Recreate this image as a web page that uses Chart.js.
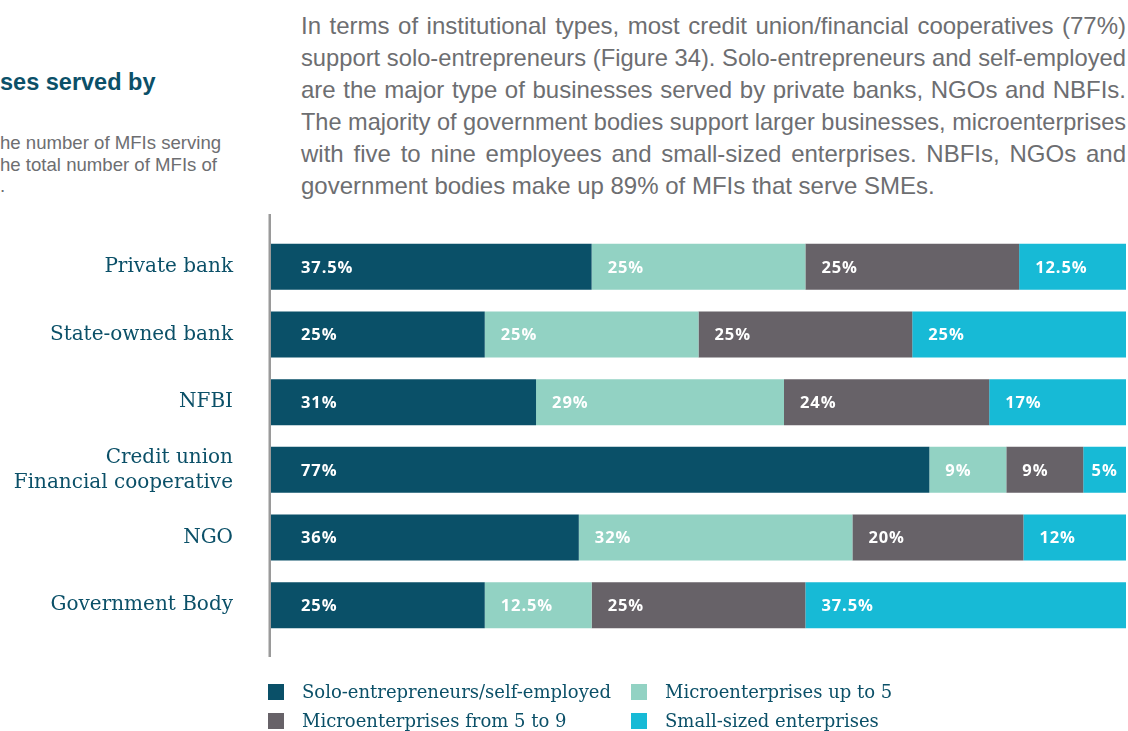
<!DOCTYPE html>
<html>
<head>
<meta charset="utf-8">
<script src="https://cdn.jsdelivr.net/npm/chart.js@4.4.1/dist/chart.umd.min.js"></script>
<style>
  html, body { margin: 0; padding: 0; background: #ffffff; }
  body { width: 1128px; height: 731px; position: relative; overflow: hidden; }
  #wrap { position: absolute; left: 0; top: 0; width: 1128px; height: 731px; }
  .title { position: absolute; left: 0; top: 69px; font: bold 23.5px "Liberation Sans", Arial, sans-serif; color: #0b5068; white-space: nowrap; }
  .sub { position: absolute; left: 0; top: 132px; font: 18.6px/21.5px "Liberation Sans", Arial, sans-serif; color: #6d6e71; white-space: nowrap; }
  .para { position: absolute; left: 301px; top: 10px; width: 825px; font: 24px/32px "Liberation Sans", Arial, sans-serif; color: #6d6e71; }
  .line { height: 32px; white-space: nowrap; transform-origin: 0 0; text-align: justify; text-align-last: justify; }
  #legend { position: absolute; left: 268px; top: 683px; display: grid; grid-template-columns: 363px 400px; row-gap: 12px; font: 18px "DejaVu Serif", serif; color: #0b5068; }
  .item { display: flex; align-items: center; height: 17px; white-space: nowrap; }
  .sw { width: 16px; height: 16px; margin-right: 18px; flex: none; }
</style>
</head>
<body>
<div class="title">ses served by</div>
<div class="sub">he number of MFIs serving<br>he total number of MFIs of<br>.</div>
<div class="para" id="para"></div>
<div id="wrap"><canvas id="c" width="1128" height="731"></canvas></div>
<div id="legend"></div>
<script>
// Institution types (rows, top to bottom)
const institutions = [
  'Private bank',
  'State-owned bank',
  'NFBI',
  ['Credit union', 'Financial cooperative'],
  'NGO',
  'Government Body'
];

// Share of MFIs serving each business type (%)
const soloEntrepreneurs = [37.5, 25, 31, 77, 36, 25];
const microUpTo5       = [25, 25, 29, 9, 32, 12.5];
const micro5to9        = [25, 25, 24, 9, 20, 25];
const smallSized       = [12.5, 25, 17, 5, 12, 37.5];

const seriesNames = [
  'Solo-entrepreneurs/self-employed',
  'Microenterprises up to 5',
  'Microenterprises from 5 to 9',
  'Small-sized enterprises'
];
const seriesColors = ['#0a5068', '#92d2c3', '#676268', '#17bad6'];

// Commentary text, one entry per printed line
const paragraphLines = [
  'In terms of institutional types, most credit union/financial cooperatives (77%)',
  'support solo-entrepreneurs (Figure 34). Solo-entrepreneurs and self-employed',
  'are the major type of businesses served by private banks, NGOs and NBFIs.',
  'The majority of government bodies support larger businesses, microenterprises',
  'with five to nine employees and small-sized enterprises. NBFIs, NGOs and',
  'government bodies make up 89% of MFIs that serve SMEs.'
];

// Justified lines; lines that are too long get squeezed to the column width
const COL_W = 825;
const para = document.getElementById('para');
paragraphLines.forEach((t, i) => {
  const d = document.createElement('div');
  d.className = 'line';
  d.textContent = t;
  para.appendChild(d);
  d.style.display = 'inline-block';
  const natural = d.getBoundingClientRect().width;
  d.style.display = 'block';
  const last = i === paragraphLines.length - 1;
  let s = 1;
  if (natural > COL_W) s = COL_W / natural;
  d.style.transform = 'scaleX(' + s + ')';
  d.style.width = (COL_W / s) + 'px';
  if (last) d.style.textAlignLast = 'left';
});

// Vertical rule to the left of the bars
const axisRule = {
  id: 'axisRule',
  afterDraw(chart) {
    const { ctx, chartArea } = chart;
    ctx.save();
    ctx.fillStyle = '#9a9a9a';
    ctx.fillRect(chartArea.left - 2.5, chartArea.top - 19, 2.5, chartArea.bottom - chartArea.top + 37);
    ctx.restore();
  }
};

// Percent labels at the start of each segment
const segmentLabels = {
  id: 'segmentLabels',
  afterDatasetsDraw(chart) {
    const { ctx } = chart;
    ctx.save();
    ctx.font = 'bold 16.5px "Open Sans", sans-serif';
    if ('letterSpacing' in ctx) ctx.letterSpacing = '0.9px';
    ctx.fillStyle = '#ffffff';
    ctx.textBaseline = 'middle';
    ctx.textAlign = 'left';
    chart.data.datasets.forEach((ds, di) => {
      chart.getDatasetMeta(di).data.forEach((bar, i) => {
        const text = ds.data[i] + '%';
        const start = Math.min(bar.base, bar.x);
        const end = Math.min(Math.max(bar.base, bar.x), chart.chartArea.right);
        const w = ctx.measureText(text).width;
        let off = di === 0 ? 30 : 16;
        off = Math.min(off, Math.max(2, (end - start - w) / 2));
        ctx.fillText(text, start + off, bar.y + 1);
      });
    });
    ctx.restore();
  }
};

const datasetsList = [soloEntrepreneurs, microUpTo5, micro5to9, smallSized].map((vals, k) => ({
  label: seriesNames[k],
  data: vals,
  backgroundColor: seriesColors[k],
  borderWidth: 0,
  categoryPercentage: 1,
  barPercentage: 0.68,
  clip: 0
}));

const chart = new Chart(document.getElementById('c'), {
  type: 'bar',
  data: { labels: institutions, datasets: datasetsList },
  options: {
    indexAxis: 'y',
    responsive: false,
    animation: false,
    layout: { padding: { top: 233, bottom: 92, right: 2, left: 0 } },
    plugins: { legend: { display: false }, tooltip: { enabled: false } },
    scales: {
      x: { stacked: true, min: 0, max: 100, display: false },
      y: {
        stacked: true,
        grid: { display: false, drawTicks: false },
        border: { display: false },
        ticks: {
          padding: 38,
          color: '#0b5068',
          font: { family: '"DejaVu Serif", serif', size: 20, lineHeight: 1.25 }
        },
        afterFit(scale) { scale.width = 271; }
      }
    }
  },
  plugins: [axisRule, segmentLabels]
});

// Legend built from the chart's datasets
const legend = document.getElementById('legend');
chart.data.datasets.forEach(ds => {
  const item = document.createElement('div');
  item.className = 'item';
  const sw = document.createElement('span');
  sw.className = 'sw';
  sw.style.background = ds.backgroundColor;
  const txt = document.createElement('span');
  txt.textContent = ds.label;
  item.appendChild(sw);
  item.appendChild(txt);
  legend.appendChild(item);
});
</script>
</body>
</html>
